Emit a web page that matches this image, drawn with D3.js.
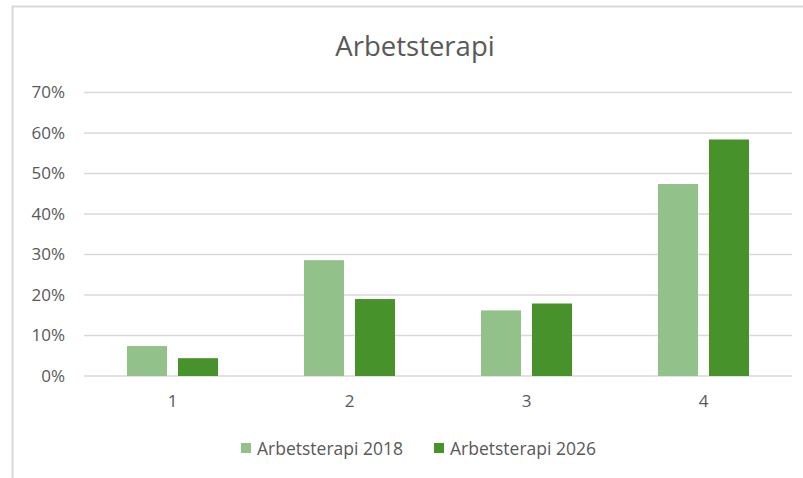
<!DOCTYPE html>
<html><head><meta charset="utf-8">
<script src="https://cdn.jsdelivr.net/npm/d3@7"></script>
<style>body{margin:0;background:#fff;}svg{display:block;}</style>
</head><body>
<svg id="chart" width="803" height="478"></svg>
<script>
const categories = ["1", "2", "3", "4"];
const seriesNames = ["Arbetsterapi 2018", "Arbetsterapi 2026"];
const values2018 = [0.074, 0.286, 0.162, 0.474];
const values2026 = [0.044, 0.190, 0.179, 0.584];
const yTicks = [0, 0.1, 0.2, 0.3, 0.4, 0.5, 0.6, 0.7];
const colors = ["#93c18a", "#47922a"];
const title = "Arbetsterapi";

const svg = d3.select("#chart");
const font = "'Open Sans', sans-serif";
const txt = "#595959";

// chart border
svg.append("rect").attr("x", 12.5).attr("y", 6.5).attr("width", 830).attr("height", 520)
  .attr("fill", "none").attr("stroke", "#d9d9d9").attr("stroke-width", 2);

const m = {left: 84, right: 792, top: 92.5, bottom: 376};
const x = d3.scaleBand().domain(categories).range([m.left, m.right]).paddingInner(0).paddingOuter(0);
const y = d3.scaleLinear().domain([0, 0.7]).range([m.bottom, m.top]);
const inner = d3.scaleBand().domain(seriesNames).range([0, x.bandwidth()]).paddingInner(0.2157).paddingOuter(0.843);

svg.append("text").attr("x", 415).attr("y", 56).attr("text-anchor", "middle")
  .attr("font-family", font).attr("font-size", 27.5).attr("fill", txt).text(title);

// gridlines
svg.append("g").selectAll("line").data(yTicks).join("line")
  .attr("x1", m.left).attr("x2", m.right)
  .attr("y1", d => y(d)).attr("y2", d => y(d))
  .attr("stroke", "#d9d9d9").attr("stroke-width", 1.5);

// y axis labels
const yAxis = d3.axisLeft(y).tickValues(yTicks).tickFormat(d3.format(".0%")).tickSize(0).tickPadding(0);
const yg = svg.append("g").attr("transform", `translate(65,0)`).call(yAxis);
yg.select(".domain").remove();
yg.selectAll("text").attr("font-family", font).attr("font-size", 17).attr("fill", txt);

// bars
const data = categories.map((c, i) => ({c, vals: [values2018[i], values2026[i]]}));
const groups = svg.append("g").selectAll("g").data(data).join("g")
  .attr("transform", d => `translate(${x(d.c)},0)`);
groups.selectAll("rect").data(d => d.vals.map((v, j) => ({s: seriesNames[j], v, j}))).join("rect")
  .attr("x", d => inner(d.s)).attr("width", inner.bandwidth())
  .attr("y", d => y(d.v)).attr("height", d => y(0) - y(d.v))
  .attr("fill", d => colors[d.j]);

// x axis labels
const xAxis = d3.axisBottom(x).tickSize(0).tickPadding(0);
const xg = svg.append("g").attr("transform", `translate(0,${m.bottom + 19})`).call(xAxis);
xg.select(".domain").remove();
xg.selectAll("text").attr("font-family", font).attr("font-size", 17).attr("fill", txt);

// legend
const legendX = [241, 434];
const lg = svg.append("g").selectAll("g").data(seriesNames).join("g")
  .attr("transform", (d, i) => `translate(${legendX[i]},443)`);
lg.append("rect").attr("width", 10).attr("height", 10).attr("fill", (d, i) => colors[i]);
lg.append("text").attr("x", 16).attr("y", 11.5).attr("font-family", font).attr("font-size", 17.5)
  .attr("fill", txt).text(d => d);
</script>
</body></html>
